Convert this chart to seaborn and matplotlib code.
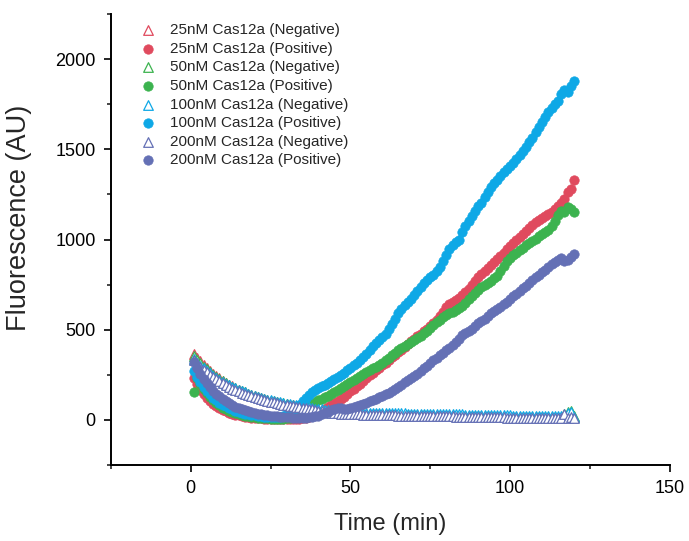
import numpy as np
import pandas as pd
import matplotlib
matplotlib.use("Agg")
import matplotlib.pyplot as plt
from matplotlib.ticker import MultipleLocator
import seaborn as sns

time_min = list(range(1, 121))

neg_25 = [368, 345, 324, 305, 288, 272, 257, 243, 230, 218,
          207, 196, 186, 177, 168, 160, 152, 145, 138, 132,
          126, 120, 115, 110, 105, 101, 97, 93, 89, 86,
          83, 80, 77, 74, 71, 68, 65, 62, 59, 56,
          53, 50, 47, 44, 42, 40, 38, 37, 36, 35,
          34, 33, 33, 32, 32, 31, 31, 30, 30, 29,
          29, 29, 28, 28, 27, 27, 27, 26, 26, 26,
          25, 25, 25, 24, 24, 24, 23, 23, 23, 22,
          22, 22, 21, 21, 21, 20, 20, 20, 19, 19,
          19, 18, 18, 18, 18, 17, 17, 17, 16, 16,
          16, 16, 15, 15, 15, 15, 14, 14, 14, 14,
          13, 13, 13, 13, 12, 12, 22, 14, 18, 15]
pos_25 = [235, 198, 168, 143, 122, 104, 89, 76, 65, 55,
          47, 40, 34, 29, 25, 21, 18, 15, 13, 11,
          9, 8, 7, 6, 5, 5, 4, 4, 4, 5,
          5, 5, 6, 7, 9, 12, 17, 24, 32, 42,
          52, 62, 72, 82, 92, 103, 115, 128, 142, 158,
          172, 186, 200, 215, 232, 248, 262, 276, 290, 304,
          318, 332, 346, 360, 375, 390, 405, 420, 435, 450,
          465, 478, 492, 505, 520, 538, 556, 575, 600, 625,
          640, 652, 662, 675, 692, 710, 728, 748, 768, 790,
          808, 825, 842, 858, 875, 892, 910, 928, 945, 962,
          978, 995, 1012, 1030, 1048, 1065, 1080, 1095, 1108, 1118,
          1130, 1142, 1155, 1170, 1185, 1205, 1225, 1262, 1278, 1330]
neg_50 = [355, 334, 314, 296, 280, 265, 251, 238, 226, 214,
          203, 193, 184, 175, 167, 159, 152, 145, 139, 133,
          127, 122, 117, 112, 107, 103, 99, 95, 91, 87,
          84, 80, 77, 74, 71, 68, 65, 62, 59, 57,
          54, 51, 49, 46, 44, 42, 40, 39, 37, 36,
          35, 34, 34, 33, 33, 32, 32, 31, 31, 30,
          30, 30, 29, 29, 28, 28, 28, 27, 27, 27,
          26, 26, 26, 25, 25, 25, 24, 24, 24, 23,
          23, 23, 22, 22, 22, 21, 21, 21, 20, 20,
          20, 19, 19, 19, 19, 18, 18, 18, 17, 17,
          17, 17, 16, 16, 16, 16, 15, 15, 15, 15,
          14, 14, 14, 14, 13, 13, 30, 45, 48, 20]
pos_50 = [155, 232, 200, 172, 148, 127, 109, 93, 80, 68,
          58, 49, 42, 36, 31, 26, 22, 19, 16, 14,
          12, 10, 9, 8, 7, 6, 6, 6, 7, 8,
          10, 14, 20, 30, 45, 60, 75, 88, 100, 110,
          118, 126, 135, 145, 155, 165, 178, 190, 200, 210,
          222, 235, 245, 255, 265, 275, 285, 295, 305, 318,
          330, 345, 360, 372, 385, 398, 410, 422, 432, 442,
          452, 465, 480, 495, 510, 525, 540, 555, 568, 580,
          592, 600, 608, 618, 632, 650, 668, 688, 705, 720,
          735, 748, 760, 772, 785, 800, 825, 855, 880, 900,
          912, 925, 940, 955, 968, 980, 992, 1005, 1018, 1030,
          1040, 1055, 1075, 1105, 1135, 1160, 1150, 1180, 1170, 1150]
neg_100 = [335, 318, 301, 286, 271, 258, 245, 233, 222, 211,
           201, 192, 183, 175, 167, 159, 152, 146, 140, 134,
           128, 123, 118, 113, 109, 105, 101, 97, 93, 90,
           87, 84, 81, 78, 75, 72, 69, 66, 63, 60,
           58, 56, 54, 52, 50, 48, 47, 46, 45, 44,
           43, 42, 42, 41, 41, 40, 40, 39, 39, 38,
           38, 38, 37, 37, 36, 36, 36, 35, 35, 35,
           34, 34, 34, 33, 33, 33, 32, 32, 32, 31,
           31, 31, 30, 30, 30, 29, 29, 29, 28, 28,
           28, 27, 27, 27, 26, 26, 26, 25, 25, 25,
           24, 24, 24, 23, 23, 23, 22, 22, 22, 21,
           21, 21, 20, 20, 20, 19, 26, 40, 46, 18]
pos_100 = [272, 238, 208, 182, 160, 141, 124, 109, 96, 85,
           75, 66, 58, 51, 45, 40, 35, 31, 28, 25,
           22, 20, 18, 16, 15, 14, 14, 16, 22, 30,
           40, 52, 66, 84, 102, 120, 138, 152, 166, 178,
           188, 196, 205, 214, 225, 238, 250, 262, 275, 290,
           305, 318, 332, 350, 368, 388, 410, 428, 442, 458,
           478, 505, 532, 560, 590, 615, 635, 655, 672, 690,
           712, 735, 758, 775, 790, 805, 825, 850, 880, 915,
           945, 968, 985, 1000, 1040, 1075, 1100, 1130, 1160, 1185,
           1205, 1235, 1262, 1290, 1312, 1330, 1350, 1372, 1390, 1408,
           1425, 1445, 1468, 1492, 1515, 1540, 1565, 1595, 1625, 1652,
           1680, 1705, 1730, 1752, 1770, 1805, 1830, 1820, 1850, 1880]
neg_200 = [332, 312, 294, 278, 263, 249, 236, 224, 213, 202,
           192, 183, 174, 166, 158, 151, 144, 138, 132, 126,
           120, 115, 110, 105, 101, 97, 93, 89, 85, 82,
           79, 76, 73, 70, 67, 64, 61, 58, 55, 52,
           49, 46, 43, 41, 39, 37, 35, 34, 33, 32,
           31, 30, 30, 29, 29, 28, 28, 27, 27, 26,
           26, 26, 25, 25, 24, 24, 24, 23, 23, 23,
           22, 22, 22, 21, 21, 21, 20, 20, 20, 19,
           19, 19, 18, 18, 18, 17, 17, 17, 16, 16,
           16, 15, 15, 15, 15, 14, 14, 14, 13, 13,
           13, 13, 12, 12, 12, 12, 11, 11, 11, 11,
           10, 10, 10, 10, 9, 9, 35, 12, 14, 10]
pos_200 = [320, 285, 254, 227, 203, 181, 162, 145, 130, 116,
           104, 93, 83, 74, 66, 59, 53, 47, 42, 38,
           34, 31, 28, 25, 23, 21, 19, 17, 16, 15,
           14, 13, 13, 12, 12, 13, 14, 16, 19, 23,
           30, 38, 46, 55, 62, 66, 64, 60, 62, 66,
           72, 78, 84, 90, 96, 102, 110, 118, 126, 134,
           142, 150, 160, 172, 184, 196, 208, 220, 230, 242,
           256, 270, 285, 300, 315, 330, 345, 358, 372, 386,
           400, 415, 432, 450, 468, 482, 492, 505, 520, 535,
           550, 562, 575, 590, 602, 615, 628, 640, 655, 670,
           685, 700, 715, 730, 745, 760, 775, 790, 805, 818,
           830, 845, 862, 878, 888, 895, 880, 885, 905, 922]

labels = ["25nM Cas12a (Negative)", "25nM Cas12a (Positive)",
          "50nM Cas12a (Negative)", "50nM Cas12a (Positive)",
          "100nM Cas12a (Negative)", "100nM Cas12a (Positive)",
          "200nM Cas12a (Negative)", "200nM Cas12a (Positive)"]
series = [neg_25, pos_25, neg_50, pos_50, neg_100, pos_100, neg_200, pos_200]
colors = ["#E04A5E", "#E04A5E", "#3CB34F", "#3CB34F",
          "#0EA8E6", "#0EA8E6", "#6470B5", "#6470B5"]

sns.set_style("ticks")
plt.rcParams['font.family'] = ['Liberation Sans', 'DejaVu Sans']

fig = plt.figure(figsize=(6.89, 5.41), dpi=100)
ax = fig.add_axes([0.161, 0.1405, 0.811, 0.8335])

for lab, vals, col in zip(labels, series, colors):
    df = pd.DataFrame({"Time": time_min, "Fluorescence": vals})
    if "Negative" in lab:
        sns.scatterplot(data=df, x="Time", y="Fluorescence", ax=ax,
                        marker="^", s=48, facecolor="white",
                        edgecolor=col, linewidth=0.9, label=lab, zorder=3)
    else:
        sns.scatterplot(data=df, x="Time", y="Fluorescence", ax=ax,
                        marker="o", s=46, color=col, edgecolor=col,
                        linewidth=0.5, label=lab, zorder=3)

ax.set_xlim(-25, 150)
ax.set_ylim(-250, 2250)
ax.xaxis.set_major_locator(MultipleLocator(50))
ax.xaxis.set_minor_locator(MultipleLocator(25))
ax.yaxis.set_major_locator(MultipleLocator(500))
ax.yaxis.set_minor_locator(MultipleLocator(250))
ax.tick_params(axis="both", which="major", direction="out", length=5,
               width=1.2, labelsize=13, colors="black", pad=6)
ax.tick_params(axis="both", which="minor", direction="out", length=3,
               width=1.2)
for sp in ["left", "bottom"]:
    ax.spines[sp].set_linewidth(1.4)
    ax.spines[sp].set_color("black")
for sp in ["top", "right"]:
    ax.spines[sp].set_visible(False)

ax.set_xlabel("Time (min)", fontsize=17, labelpad=11)
ax.set_ylabel("Fluorescence (AU)", fontsize=19.5)
ax.yaxis.set_label_coords(-0.141, 0.548)

leg = ax.legend(loc="upper left", bbox_to_anchor=(0.023, 1.0), frameon=False,
                fontsize=11, labelspacing=0.30, handletextpad=0.4,
                markerscale=1.0, borderaxespad=0.2)

fig.savefig("out.png", dpi=100)
